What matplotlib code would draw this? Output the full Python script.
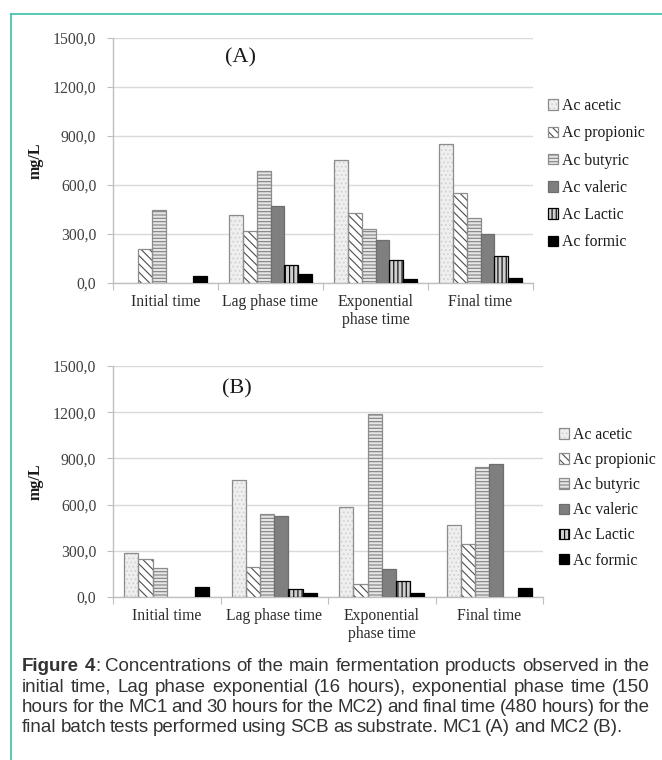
import matplotlib
matplotlib.use("Agg")
import matplotlib.pyplot as plt
import numpy as np
from matplotlib.lines import Line2D
from matplotlib.ticker import FuncFormatter

# ──────────────────────────────────────────────────────────────────────────────
# Data (mg/L); nan = not detected / no bar
# ──────────────────────────────────────────────────────────────────────────────
categories = ["Initial time", "Lag phase time", "Exponential\nphase time", "Final time"]
acids = ["Ac acetic", "Ac propionic", "Ac butyric", "Ac valeric", "Ac Lactic", "Ac formic"]

nan = np.nan
mc1_acetic = [nan, 415, 754, 850]
mc1_propionic = [208, 320, 426, 548]
mc1_butyric = [445, 685, 331, 399]
mc1_valeric = [nan, 471, 261, 298]
mc1_lactic = [nan, 112, 143, 167]
mc1_formic = [42, 54, 24, 30]

mc2_acetic = [284, 761, 582, 465]
mc2_propionic = [250, 198, 85, 343]
mc2_butyric = [190, 538, 1189, 845]
mc2_valeric = [nan, 527, 183, 863]
mc2_lactic = [nan, 51, 104, nan]
mc2_formic = [66, 25, 24, 58]

yticks = [0, 300, 600, 900, 1200, 1500]

# (face, hatch, hatch colour, outline colour) per acid
styles = [
    ("#efefef", "....", "#d2d2d2", "#8c8c8c"),
    ("#ffffff", r"\\\\", "#4d4d4d", "#8c8c8c"),
    ("#e6e6e6", "-----", "#808080", "#8c8c8c"),
    ("#7f7f7f", "", "#7f7f7f", "#6e6e6e"),
    ("#cfcfcf", "||||", "#000000", "#000000"),
    ("#000000", "", "#000000", "#000000"),
]

SERIF = "Liberation Serif"
SANS = "Liberation Sans"
plt.rcParams["hatch.linewidth"] = 0.8


def fmt_comma(v, _):
    return f"{v:.1f}".replace(".", ",")


def draw_panel(fig, rect, series, tag, tag_xy, legend_anchor, legend_spacing):
    ax = fig.add_axes(rect)
    n = len(series)
    x = np.arange(len(categories))
    w = 0.132
    handles = []
    for i, (vals, (face, hatch, hcol, ecol)) in enumerate(zip(series, styles)):
        pos = x + (i - (n - 1) / 2) * w
        fill = ax.bar(pos, vals, w, color=face, hatch=hatch, edgecolor=hcol,
                      linewidth=0, zorder=3)
        line = ax.bar(pos, vals, w, fill=False, edgecolor=ecol,
                      linewidth=0.9, zorder=4)
        handles.append((fill.patches[1], line.patches[1]))

    ax.set_xlim(-0.5, len(categories) - 0.5)
    ax.set_ylim(0, 1500)
    ax.set_yticks(yticks)
    ax.yaxis.set_major_formatter(FuncFormatter(fmt_comma))
    ax.grid(True, axis="y", color="#d9d9d9", linewidth=1.0, zorder=0)
    ax.set_axisbelow(True)

    # boundary ticks on x, labels at category centres
    ax.set_xticks(np.arange(len(categories) + 1) - 0.5)
    ax.set_xticklabels([])
    ax.set_xticks(x, minor=True)
    ax.set_xticklabels(categories, minor=True, fontfamily=SERIF,
                       fontsize=11.3, color="#2b2b2b", linespacing=1.15)
    ax.tick_params(axis="x", which="major", length=5, color="#bfbfbf", direction="out")
    ax.tick_params(axis="x", which="minor", length=0, pad=8)
    ax.tick_params(axis="y", length=4, color="#bfbfbf", pad=8,
                   labelsize=11.3, labelcolor="#404040")
    for lab in ax.get_yticklabels():
        lab.set_fontfamily(SERIF)

    for s in ["top", "right"]:
        ax.spines[s].set_visible(False)
    for s in ["left", "bottom"]:
        ax.spines[s].set_color("#bfbfbf")
        ax.spines[s].set_linewidth(1.0)

    ax.set_ylabel("mg/L", fontfamily=SERIF, fontweight="bold", fontsize=11.5,
                  color="#1a1a1a", labelpad=7)
    fig.text(tag_xy[0], tag_xy[1], tag, fontfamily=SERIF, fontsize=16,
             color="#1a1a1a", ha="center", va="center")

    fig.legend(handles, acids, loc="upper left", bbox_to_anchor=legend_anchor,
               frameon=False, prop={"family": SERIF, "size": 11.3},
               handlelength=0.65, handleheight=0.65, handletextpad=0.25,
               labelspacing=legend_spacing, borderpad=0, borderaxespad=0,
               labelcolor="#1a1a1a")
    return ax


W, H = 662, 760
fig = plt.figure(figsize=(W / 100, H / 100), dpi=100)

draw_panel(fig, [113 / W, 1 - 283 / H, 420 / W, 245 / H],
           [mc1_acetic, mc1_propionic, mc1_butyric, mc1_valeric, mc1_lactic, mc1_formic],
           "(A)", (240 / W, 1 - 58 / H), (548 / W, 1 - 98 / H), 0.72)
draw_panel(fig, [113 / W, 1 - 597 / H, 430 / W, 231 / H],
           [mc2_acetic, mc2_propionic, mc2_butyric, mc2_valeric, mc2_lactic, mc2_formic],
           "(B)", (237 / W, 1 - 389 / H), (559 / W, 1 - 427 / H), 0.58)

# teal frame (left and top edges)
teal = "#3cbfa6"
fig.add_artist(Line2D([11 / W, 11 / W], [0, 1 - 14 / H], color=teal, lw=1.2,
                      transform=fig.transFigure))
fig.add_artist(Line2D([11 / W, 1], [1 - 14 / H, 1 - 14 / H], color=teal, lw=1.2,
                      transform=fig.transFigure))

# ──────────────────────────────────────────────────────────────────────────────
# Caption (justified lines, word by word)
# ──────────────────────────────────────────────────────────────────────────────
cap_lines = [
    "Figure 4: Concentrations of the main fermentation products observed in the",
    "initial time, Lag phase exponential (16 hours), exponential phase time (150",
    "hours for the MC1 and 30 hours for the MC2) and final time (480 hours) for the",
    "final batch tests performed using SCB as substrate. MC1 (A) and MC2 (B).",
]
cap_base = [671, 692, 712, 732]
cap_size = 13.5
x0, x1 = 22, 650
renderer = fig.canvas.get_renderer()


def cap_text(s, yy, bold=False):
    return fig.text(0, 1 - yy / H, s, fontfamily=SANS, fontsize=cap_size,
                    color="#333333", fontweight="bold" if bold else "normal",
                    va="baseline")


for k, (line, yy) in enumerate(zip(cap_lines, cap_base)):
    words = line.split(" ")
    arts = []
    for j, wd in enumerate(words):
        if k == 0 and j == 0:
            arts.append([cap_text("Figure", yy, bold=True)])
        elif k == 0 and j == 1:
            arts.append([cap_text("4", yy, bold=True), cap_text(":", yy)])
        else:
            arts.append([cap_text(wd, yy)])

    widths = [[t.get_window_extent(renderer).width for t in grp] for grp in arts]
    totals = [sum(ws) for ws in widths]
    space = 3.8
    if k < len(cap_lines) - 1:
        space = max(2.5, (x1 - x0 - sum(totals)) / (len(arts) - 1))
    xx = x0
    for grp, ws in zip(arts, widths):
        for t, wt in zip(grp, ws):
            t.set_x(xx / W)
            xx += wt
        xx += space

fig.savefig("out.png", dpi=100)
